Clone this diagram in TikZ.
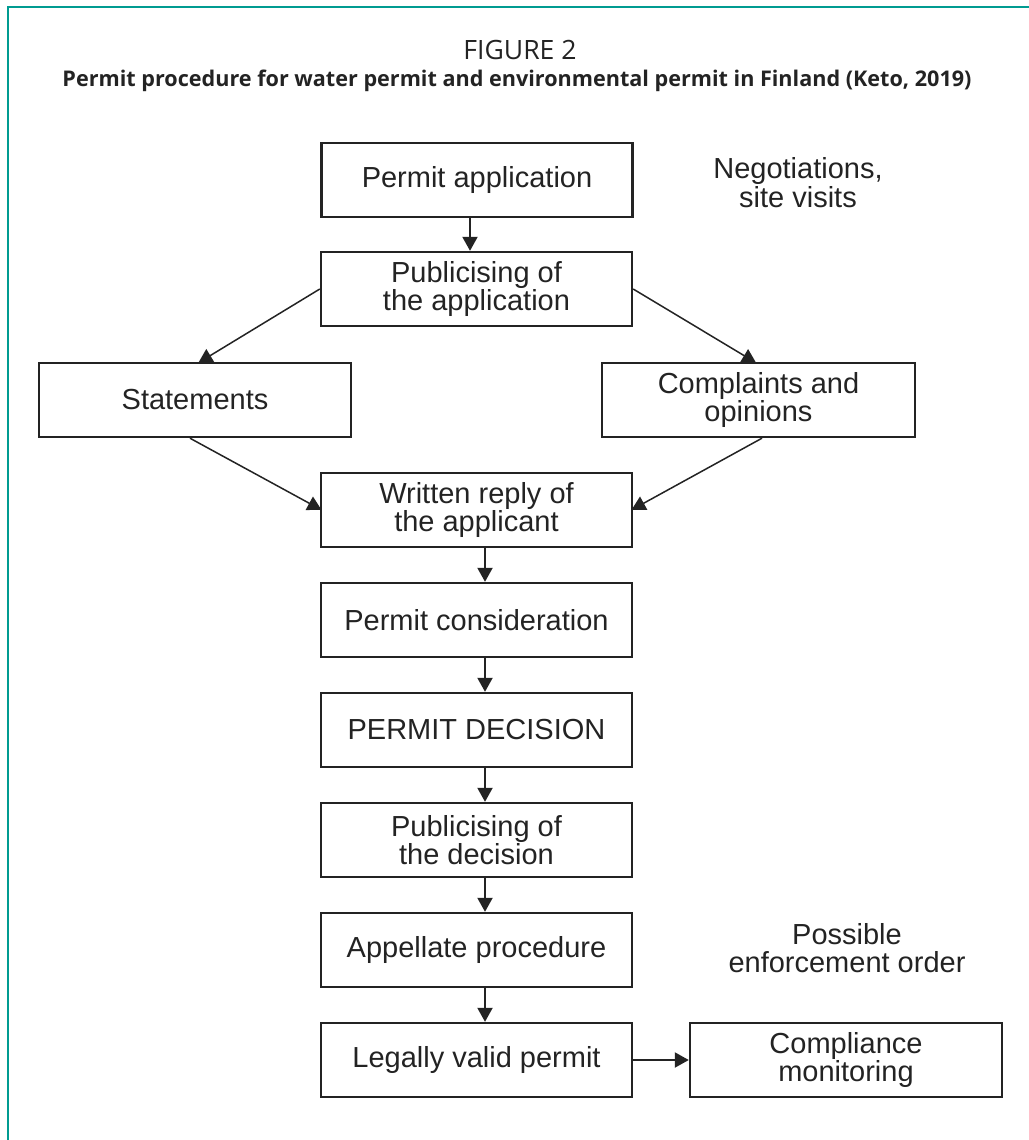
\documentclass[tikz,border=0pt]{standalone}
\usepackage{fontspec}
\setmainfont{Liberation Sans}
\newfontfamily\titlefont{Open Sans}
\usetikzlibrary{arrows.meta,calc}
\definecolor{framecol}{RGB}{0,155,145}
\definecolor{ink}{RGB}{35,35,35}
\begin{document}
\begin{tikzpicture}[x=0.5pt,y=-0.5pt,
  box/.style={draw=ink, line width=1.2pt, minimum width=155.5pt, minimum height=37pt,
    inner sep=0pt, align=center, text=ink, font=\fontsize{14.5}{14.3}\selectfont},
  note/.style={align=center, text=ink, inner sep=0pt, font=\fontsize{14.5}{14.3}\selectfont},
  arr/.style={draw=ink, line width=1pt, -{Triangle[width=7.5pt,length=7pt]}},
  darr/.style={draw=ink, line width=0.75pt, -{Triangle[width=7.5pt,length=7pt]}, shorten >=-1pt}
]
\useasboundingbox (0,0) rectangle (1028,1140);
% frame
\draw[framecol, line width=1.3pt] (8,1141) -- (8,7) -- (1029,7);
% titles
\node[text=ink, font=\titlefont\fontsize{13.3}{15}\selectfont] (fig) at (520,50) {FIGURE 2};
\node[text=ink, font=\titlefont\bfseries\fontsize{10.8}{13}\selectfont] (sub) at (517,81)
  {Permit procedure for water permit and environmental permit in Finland (Keto, 2019)};
% boxes
\node[box] (app) at (477,180) {Permit application};
\node[box] (pub) at (476.5,289) {Publicising of\\the application};
\node[box, minimum width=156pt] (stat) at (195,400) {Statements};
\node[box, minimum width=156.5pt] (comp) at (758.5,400) {Complaints and\\opinions};
\node[box] (writ) at (476.5,510) {Written reply of\\the applicant};
\node[box] (cons) at (476.5,620) {Permit consideration};
\node[box] (dec) at (476.5,730) {PERMIT DECISION};
\node[box] (pubd) at (476.5,840) {Publicising of\\the decision};
\node[box] (appl) at (476.5,950) {Appellate procedure};
\node[box] (legal) at (476.5,1060) {Legally valid permit};
\node[box, minimum width=156pt] (mon) at (846,1060) {Compliance\\monitoring};
% notes
\node[note, font=\fontsize{14.5}{11.5}\selectfont] (neg) at (798,183) {Negotiations,\\site visits};
\node[note] (enf) at (847,948) {Possible\\enforcement order};
% helper coordinates for arrow x positions
\coordinate (ax0) at (470,0);
\coordinate (ax) at (485,0);
% vertical arrows
\draw[arr] (app.south -| ax0) -- (pub.north -| ax0);
\draw[arr] (writ.south -| ax) -- (cons.north -| ax);
\draw[arr] (cons.south -| ax) -- (dec.north -| ax);
\draw[arr] (dec.south -| ax) -- (pubd.north -| ax);
\draw[arr] (pubd.south -| ax) -- (appl.north -| ax);
\draw[arr] (appl.south -| ax) -- (legal.north -| ax);
\draw[arr] (legal.east) -- (mon.west);
% diagonal arrows
\draw[darr] (pub.west) -- ($(stat.north west)!0.516!(stat.north east)$);
\draw[darr] (pub.east) -- ($(comp.north west)!0.487!(comp.north east)$);
\draw[darr] ($(stat.south west)!0.484!(stat.south east)$) -- ($(writ.west)+(0,-1)$);
\draw[darr] ($(comp.south west)!0.511!(comp.south east)$) -- ($(writ.east)+(0,-1)$);
\end{tikzpicture}
\end{document}
